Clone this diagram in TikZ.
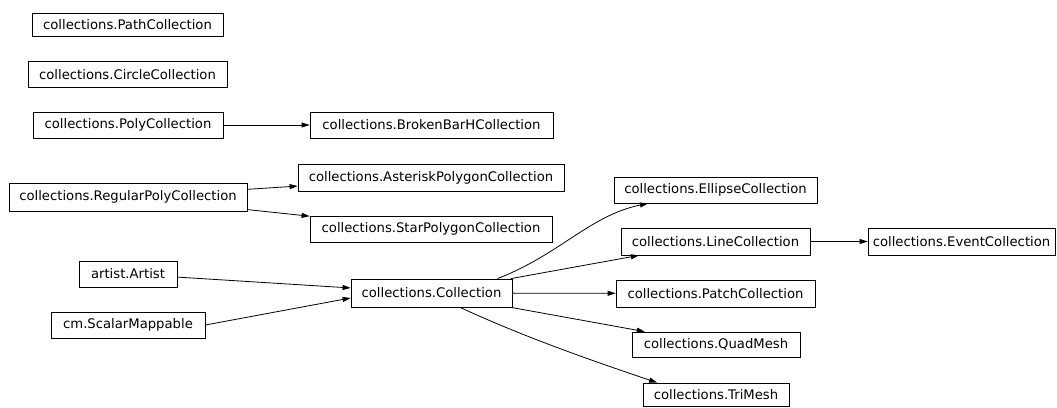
\documentclass[tikz,border=0pt]{standalone}
\usepackage{fontspec}
\setmainfont{DejaVu Sans}
\usetikzlibrary{arrows.meta}
\begin{document}
\begin{tikzpicture}[x=1pt,y=-1pt,
  cbox/.style={draw, line width=0.8pt, inner sep=0pt, font=\fontsize{13.2}{15}\selectfont},
  edge/.style={line width=0.8pt, -{Triangle[length=8pt,width=5pt]}}]
\fill[white] (0,0) rectangle (1057,407);
\useasboundingbox (0,0) rectangle (1057,407);
\node[cbox, minimum width=191pt, minimum height=23pt] (path) at (127.5,24.5) {collections.PathCollection};
\node[cbox, minimum width=199pt, minimum height=26pt] (circ) at (127.5,74.5) {collections.CircleCollection};
\node[cbox, minimum width=190pt, minimum height=26pt] (poly) at (128,125) {collections.PolyCollection};
\node[cbox, minimum width=243pt, minimum height=26pt] (broken) at (431.5,125) {collections.BrokenBarHCollection};
\node[cbox, minimum width=238pt, minimum height=28pt] (reg) at (128,197) {collections.RegularPolyCollection};
\node[cbox, minimum width=266pt, minimum height=27pt] (aster) at (431,177.5) {collections.AsteriskPolygonCollection};
\node[cbox, minimum width=242pt, minimum height=26pt] (star) at (431,229) {collections.StarPolygonCollection};
\node[cbox, minimum width=98pt, minimum height=26pt] (artist) at (128,274) {artist.Artist};
\node[cbox, minimum width=154pt, minimum height=26pt] (scalar) at (128,325) {cm.ScalarMappable};
\node[cbox, minimum width=161pt, minimum height=28pt] (coll) at (431.5,293) {collections.Collection};
\node[cbox, minimum width=203pt, minimum height=26pt] (ellipse) at (715.5,190) {collections.EllipseCollection};
\node[cbox, minimum width=189pt, minimum height=27pt] (line) at (715.5,241.5) {collections.LineCollection};
\node[cbox, minimum width=187pt, minimum height=27pt] (event) at (961.5,241.5) {collections.EventCollection};
\node[cbox, minimum width=199pt, minimum height=27pt] (patch) at (715.5,293.5) {collections.PatchCollection};
\node[cbox, minimum width=168pt, minimum height=25pt] (quad) at (716,344.5) {collections.QuadMesh};
\node[cbox, minimum width=146pt, minimum height=23pt] (tri) at (716,394.5) {collections.TriMesh};

\draw[edge] (poly) -- (broken);
\draw[edge] (reg) -- (aster);
\draw[edge] (reg) -- (star);
\draw[edge] (artist) -- (coll);
\draw[edge] (scalar.east) -- ([yshift=-5pt]coll.west);
\draw[edge] ([xshift=66pt]coll.north) .. controls +(62,-24) and +(-58,12) .. ([xshift=-67.5pt]ellipse.south);
\draw[edge] (coll) -- (line);
\draw[edge] (coll) -- (patch);
\draw[edge] (coll) -- (quad);
\draw[edge] ([xshift=28.5pt]coll.south) .. controls +(65,30) and +(-65,-22) .. ([xshift=-59pt]tri.north);
\draw[edge] (line) -- (event);
\end{tikzpicture}
\end{document}
